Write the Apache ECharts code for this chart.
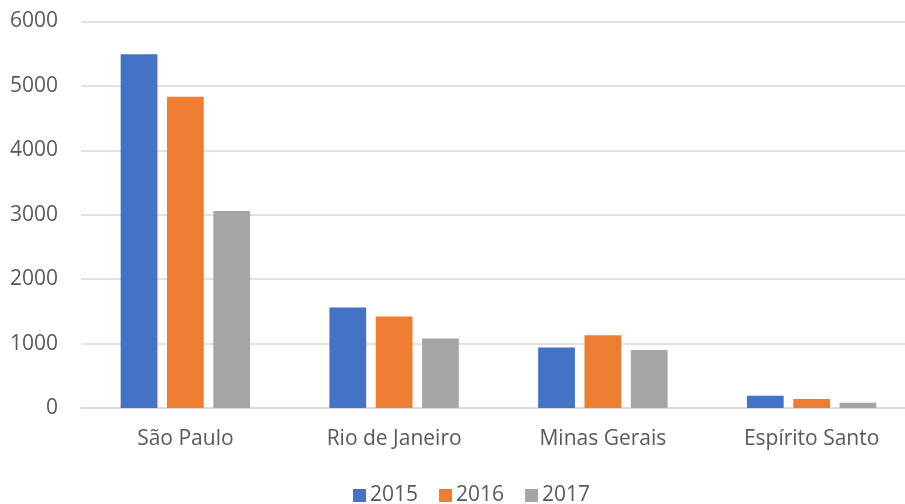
<!DOCTYPE html>
<html><head><meta charset="utf-8">
<script src="https://cdn.jsdelivr.net/npm/echarts@6/dist/echarts.min.js"></script>
<style>html,body{margin:0;padding:0;background:#fff}#c{width:905px;height:504px}</style>
</head><body><div id="c"></div>
<script>
const categories = ["São Paulo", "Rio de Janeiro", "Minas Gerais", "Espírito Santo"];
const s2015 = [5490, 1560, 940, 190];
const s2016 = [4830, 1420, 1130, 140];
const s2017 = [3060, 1080, 900, 80];
const yTicks = [0, 1000, 2000, 3000, 4000, 5000, 6000];
const font = "Open Sans";
const txt = "#595959";
const fs = 21;
const chart = echarts.init(document.getElementById('c'));
const mk = (name, data, color) => ({name, type: 'bar', data, itemStyle: {color}, barGap: '26%', barCategoryGap: '38%'});
chart.setOption({
  animation: false,
  textStyle: {fontFamily: font},
  grid: {left: 81, width: 835, top: 21.5, bottom: 96, outerBoundsMode: 'none', containLabel: false},
  legend: {
    data: ['2015', '2016', '2017'], left: 353, top: 485, padding: 0,
    itemWidth: 13, itemHeight: 13, itemGap: 21,
    icon: 'rect',
    textStyle: {color: txt, fontSize: fs, fontFamily: font, padding: [0, 0, 0, -1]}
  },
  xAxis: {
    type: 'category', data: categories,
    axisLine: {lineStyle: {color: '#D9D9D9', width: 1.5}},
    axisTick: {show: false},
    axisLabel: {color: txt, fontSize: fs, margin: 21, fontFamily: font}
  },
  yAxis: {
    type: 'value', min: yTicks[0], max: yTicks[yTicks.length - 1], interval: 1000,
    axisLine: {show: false}, axisTick: {show: false},
    splitLine: {lineStyle: {color: '#D9D9D9', width: 1.5}},
    axisLabel: {color: txt, fontSize: fs, margin: 23, fontFamily: font, formatter: v => String(v)}
  },
  series: [mk('2015', s2015, '#4472C4'), mk('2016', s2016, '#ED7D31'), mk('2017', s2017, '#A5A5A5')]
});
</script></body></html>
